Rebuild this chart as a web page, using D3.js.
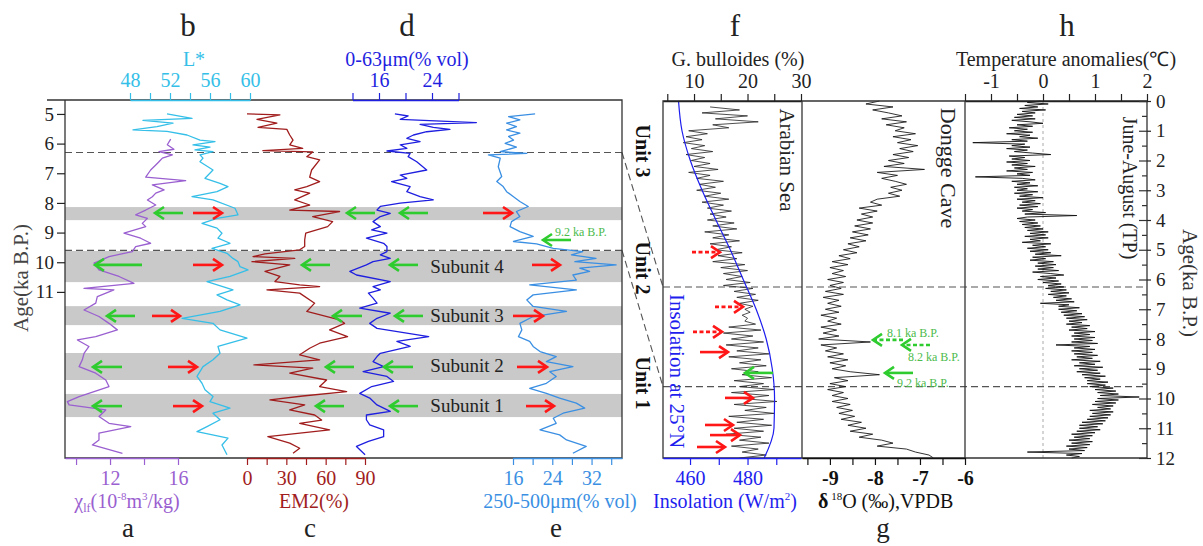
<!DOCTYPE html>
<html>
<head>
<meta charset="utf-8">
<script src="https://cdn.jsdelivr.net/npm/d3@7"></script>
<style>
  body { margin: 0; background: #fff; }
  svg { display: block; }
</style>
</head>
<body>
<div id="chart"></div>
<script>
// ---- data: left core (age ka B.P. on a depth-like scale) ----
const leftAgeTicks = [5, 6, 7, 8, 9, 10, 11];

const chiAge = [5.85,6.04,6.19,6.27,6.38,6.49,6.61,6.72,6.89,7.13,7.25,7.39,7.56,7.67,7.79,7.90,8.07,8.24,8.40,8.52,8.69,8.80,9.02,9.19,9.36,9.47,9.64,9.81,10.03,10.26,10.48,10.71,10.88,10.93,11.16,11.38,11.61,11.83,12.06,12.28,12.51,12.62,12.84,13.07,13.29,13.52,13.74,13.97,14.19,14.53,14.70,14.81,14.98,15.20,15.43,15.54,15.76,15.99,16.16,16.44];
const chiVal = [15.57,15.37,15.76,14.88,15.67,15.08,14.88,14.69,14.39,14.10,16.45,14.49,15.18,14.69,14.49,14.20,14.69,14.10,13.51,14.20,13.90,14.10,12.82,13.80,14.39,13.51,13.31,11.94,11.06,11.35,12.53,13.41,10.47,12.23,11.25,11.16,10.47,11.35,11.94,12.43,11.16,10.08,10.76,10.47,10.37,10.18,11.16,11.75,11.94,10.18,9.49,9.59,11.75,11.35,11.94,13.22,11.35,11.35,10.96,12.73];

const lAge = [5.00,5.15,5.22,5.31,5.43,5.54,5.59,5.71,5.88,5.93,6.04,6.12,6.21,6.27,6.38,6.49,6.61,6.89,7.17,7.34,7.45,7.62,7.79,7.90,8.18,8.40,8.52,8.69,8.85,9.02,9.19,9.36,9.53,9.70,9.87,9.98,10.15,10.26,10.48,10.65,10.93,11.10,11.27,11.44,11.66,11.89,12.06,12.28,12.56,12.84,13.07,13.29,13.52,13.85,14.08,14.30,14.53,14.70,14.92,15.09,15.31,15.54,15.71,15.93,16.16,16.49];
const lVal = [51.7,54.2,49.3,52.3,50.7,48.3,51.7,53.7,55.0,56.5,54.3,56.0,54.5,56.3,55.0,55.3,55.0,56.3,55.5,57.0,57.8,56.7,54.2,56.3,58.5,58.8,56.7,55.2,56.7,57.2,56.8,58.0,56.2,57.7,58.3,58.8,59.0,59.8,58.0,55.7,58.3,56.7,57.7,59.0,57.0,53.2,56.3,57.0,59.7,56.8,57.0,56.3,55.3,54.7,55.2,55.5,56.3,56.0,58.0,56.3,57.0,55.7,54.7,57.8,57.2,57.7];

const em2Age = [5.00,5.03,5.18,5.31,5.45,5.52,5.71,5.88,6.04,6.16,6.24,6.28,6.44,6.55,6.89,7.13,7.28,7.45,7.56,7.67,7.90,8.07,8.24,8.29,8.46,8.63,8.80,9.02,9.25,9.47,9.58,9.72,9.81,9.87,9.98,10.09,10.31,10.48,10.65,10.76,10.82,10.93,11.04,11.38,11.66,11.94,12.06,12.28,12.51,12.73,12.90,13.12,13.29,13.46,13.57,13.74,13.97,14.19,14.36,14.51,14.64,14.81,14.98,15.15,15.32,15.43,15.65,15.88,16.10,16.27,16.44];
const em2Val = [0,25.1,7.6,22.8,8.4,30.4,32.6,35.1,32.6,42.5,12.1,50.1,45.6,55.4,49.3,47.8,55.4,45.6,36.4,47.8,36.4,47.8,32.6,70.6,50.1,65.3,61.5,44.8,44.0,44.0,40.2,13.7,4.6,36.4,3.8,32.6,13.7,25.1,21.3,40.2,55.4,15.2,40.2,51.6,45.6,70.6,74.4,63.0,76.7,55.4,47.8,40.2,55.4,5.3,50.1,32.6,60.7,55.4,76.0,42.5,17.5,44.0,32.6,51.6,56.9,40.2,63.0,15.9,32.6,40.2,35.1];

const fineAge = [5.00,5.07,5.18,5.29,5.35,5.45,5.52,5.60,5.71,5.82,5.93,6.04,6.16,6.25,6.33,6.44,6.61,6.89,7.06,7.17,7.28,7.45,7.62,7.79,7.90,8.01,8.12,8.24,8.35,8.46,8.63,8.80,8.91,9.02,9.19,9.36,9.47,9.64,9.75,9.87,9.98,10.09,10.31,10.43,10.65,10.82,10.93,11.04,11.21,11.38,11.55,11.72,11.89,12.06,12.23,12.51,12.67,12.84,13.07,13.18,13.35,13.52,13.69,13.85,14.02,14.19,14.42,14.58,14.81,15.03,15.15,15.31,15.48,15.65,15.88,16.04,16.21,16.49];
const fineVal = [18.4,20.4,19.2,30.7,22.2,24.2,26.7,23.2,21.2,20.2,22.2,19.2,20.2,17.2,20.7,20.4,21.7,23.2,19.2,20.2,17.9,20.7,20.2,22.2,24.2,19.2,16.2,15.7,17.7,16.2,15.1,16.2,14.9,17.2,14.1,16.7,17.2,17.2,16.2,17.7,15.1,14.1,11.6,12.6,17.7,15.1,16.2,14.4,15.1,15.7,13.1,17.7,15.7,14.6,15.7,23.5,18.7,20.7,16.2,15.7,15.1,16.7,13.6,17.2,18.2,14.9,13.1,14.6,15.7,17.7,14.1,14.1,14.6,16.7,16.7,14.4,12.6,13.9];

const coarseAge = [5.00,5.09,5.20,5.31,5.43,5.54,5.65,5.76,5.88,5.99,6.12,6.21,6.27,6.33,6.38,6.49,6.78,7.11,7.28,7.45,7.62,7.79,7.95,8.12,8.29,8.46,8.63,8.80,8.97,9.13,9.30,9.38,9.53,9.64,9.75,9.87,9.98,10.09,10.20,10.31,10.43,10.60,10.76,10.93,11.10,11.27,11.49,11.66,11.83,12.06,12.28,12.51,12.67,12.84,13.01,13.18,13.35,13.52,13.69,13.85,14.08,14.25,14.42,14.58,14.75,14.92,15.09,15.26,15.43,15.65,15.82,15.99,16.21,16.44];
const coarseVal = [20.5,15.1,17.4,14.7,16.7,14.7,17.4,15.1,16.1,14.4,16.7,14.7,13.4,18.8,11.0,13.4,13.0,13.7,12.7,14.0,14.7,16.1,17.4,19.1,16.7,17.4,15.7,15.4,17.4,20.1,16.1,20.8,24.2,30.2,27.9,32.9,28.6,37.0,29.6,31.6,28.2,28.9,19.4,28.9,20.1,18.8,20.1,26.9,20.1,17.4,17.8,17.1,19.4,20.1,21.5,24.8,22.8,28.2,23.5,24.8,22.8,19.4,22.8,25.5,28.9,30.6,26.2,24.2,24.8,21.5,25.5,26.9,30.9,28.2];

const bandAges = [[8.14, 8.58], [9.62, 10.67], [11.48, 12.12], [13.06, 13.97], [14.44, 15.22]];
const subunitNames = [null, "Subunit 4", "Subunit 3", "Subunit 2", "Subunit 1"];
const leftBoundaries = [6.3, 9.6];

// ---- data: regional records (0-12 ka B.P.) ----
const insAge = [0,1,2,3,4,5,6,7,8,9,10,11,12];
const insVal = [456.0,457.2,460.1,464.2,469.0,474.0,478.5,483.0,486.5,488.6,489.4,489.2,485.8];

const bullStart = 0.2, bullStep = 0.1;
const bullVal = [13.0,18.5,11.5,20.0,14.0,22.0,13.5,16.5,
  9.0,12.5,8.5,11.5,8.0,12.0,9.5,13.5,8.5,12.0,
  9.5,13.0,10.0,14.5,9.0,13.0,10.5,15.5,11.0,14.0,
  10.5,15.0,12.0,16.5,11.5,15.5,12.5,17.0,13.0,16.0,
  12.5,17.5,13.5,18.0,12.0,16.5,13.5,18.5,13.0,17.0,
  14.0,19.0,14.5,18.0,13.5,19.5,15.0,20.0,15.5,19.0,
  16.0,20.5,15.5,21.0,17.5,21.5,18.0,22.0,18.5,21.0,
  19.5,20.5,19.0,20.0,19.5,21.5,16.5,22.5,15.5,21.0,
  17.0,23.0,16.0,22.0,18.0,24.0,16.5,22.5,18.5,23.5,
  17.0,22.0,19.0,24.5,17.5,23.0,18.5,25.0,17.0,24.0,
  19.0,25.5,17.5,23.5,19.5,25.0,16.5,23.0,18.0,24.5,
  17.5,23.0,16.0,22.5,18.5,24.0,17.0,22.0,19.0,23.5,
  18.5];

const d18oStep = 0.1;
const d18oVal = [-7.90,-8.20,-7.60,-8.05,-7.70, -7.40,-7.85,-7.30,-7.75,-7.35,
  -7.55,-7.10,-7.60,-7.20,-7.50, -7.05,-7.45,-7.15,-7.60,-7.25,
  -7.70,-7.35,-7.80,-6.90,-7.95, -7.50,-7.85,-7.55,-7.30,-7.65,
  -7.40,-7.70,-7.45,-7.95,-8.10, -7.85,-8.35,-7.95,-8.30,-8.05,
  -8.40,-8.05,-8.45,-8.10,-8.50, -8.15,-8.55,-8.20,-8.60,-8.35,
  -8.70,-8.40,-8.80,-8.55,-8.95, -8.60,-9.00,-8.70,-8.95,-8.65,
  -9.05,-8.70,-9.00,-8.75,-9.10, -8.70,-9.15,-8.80,-9.05,-8.75,
  -9.10,-8.80,-9.20,-8.85,-9.05, -8.75,-9.20,-8.85,-9.15,-8.80,
  -9.25,-8.10,-9.20,-8.85,-9.10, -8.70,-9.05,-8.60,-9.00,-8.65,
  -8.95,-8.55,-7.90,-8.90,-8.60, -9.00,-8.65,-9.05,-8.70,-8.95,
  -8.60,-8.95,-8.55,-8.85,-8.50, -8.80,-8.45,-8.75,-8.30,-8.60,
  -8.20,-8.55,-8.05,-8.35,-7.85, -7.60,-7.95,-7.30,-7.10,-6.80,
  -6.70];

const tempStep = 0.05;
const tempVal = [-0.05,-0.30,0.10,-0.35,-0.10,-0.45,0.05,-0.40,-0.15,-0.50,
  -0.20,-0.55,-0.15,-0.60,-0.25,0.00,-0.50,-0.20,-0.65,-0.30,
  -0.55,-0.20,-0.70,-0.25,-0.45,-0.10,-0.60,-0.30,-1.35,-0.35,
  -0.60,-0.25,-0.70,-0.30,-0.55,-0.20,0.15,-0.65,-0.35,-0.60,
  -0.25,-0.70,-0.30,-0.60,-0.15,-0.55,-0.30,-0.70,-0.20,-0.50,
  -0.25,-1.30,-0.40,-0.15,-0.60,-0.25,-0.50,-0.10,-0.55,-0.30,
  -0.50,-0.10,-0.55,-0.20,-0.45,0.00,-0.50,-0.15,-0.40,-0.05,
  -0.45,-0.10,-0.50,-0.20,-0.40,0.05,-0.35,0.65,-0.30,-0.50,
  -0.15,-0.45,-0.10,-0.40,-0.05,-0.35,0.00,-0.30,0.10,-0.25,
  0.05,-0.35,0.10,-0.25,-0.05,-0.40,0.15,-0.20,0.05,-0.30,
  0.10,-0.25,0.15,-0.15,0.35,-0.20,0.05,-0.25,0.20,-0.10,
  0.25,-0.15,0.20,-0.10,0.30,-0.20,0.15,0.40,-0.05,0.25,
  -0.10,0.30,0.00,0.35,0.10,0.40,0.05,0.45,0.15,0.50,
  0.10,0.45,0.20,0.55,0.25,0.60,-0.05,0.50,0.30,0.70,
  0.30,0.65,0.35,0.75,0.40,0.80,0.45,0.85,0.50,0.75,
  0.45,0.90,0.55,0.85,0.50,1.00,0.60,0.90,0.55,1.00,
  0.60,0.95,0.55,1.05,0.25,0.90,0.60,1.00,0.55,0.95,
  0.60,1.05,0.65,0.95,0.55,1.10,0.70,1.00,0.60,1.15,
  0.70,1.05,0.65,1.10,0.75,1.20,0.80,1.10,0.85,1.25,
  0.85,1.20,0.90,1.35,1.00,1.40,1.05,1.45,1.10,1.85,
  1.05,1.45,1.00,1.40,0.95,1.35,1.05,1.30,0.90,1.35,
  0.95,1.30,0.90,1.25,0.85,1.20,0.75,1.15,0.70,1.05,
  0.70,1.10,0.65,1.00,0.55,0.95,0.60,0.90,0.50,0.95,
  0.55,0.90,0.45,0.85,0.50,0.80,-0.30,0.75,0.45,0.70,
  0.55];

const rightBoundaries = [6.25, 9.6];

// annotation arrows: [age, tail x, head x, kind]  (g = green, r = red, d = dashed)
const leftArrows = [
  [8.34,183,155,"g"],[8.34,193,222,"r"],[8.34,375,347,"g"],[8.34,428,400,"g"],[8.34,483,512,"r"],
  [10.09,142,95,"g"],[10.09,193,222,"r"],[10.09,330,302,"g"],[10.09,418,390,"g"],[10.09,532,560,"r"],
  [11.81,135,107,"g"],[11.81,152,180,"r"],[11.81,362,333,"g"],[11.81,423,395,"g"],[11.81,513,543,"r"],
  [13.53,122,93,"g"],[13.53,168,197,"r"],[13.53,354,326,"g"],[13.53,413,384,"g"],[13.53,517,547,"r"],
  [14.85,122,93,"g"],[14.85,173,202,"r"],[14.85,344,316,"g"],[14.85,418,390,"g"],[14.85,526,554,"r"],
  [9.25,571,543,"g"]
];
const rightArrows = [
  [5.08,692,720,"rd"],[6.92,715,743,"rd"],[7.76,693,722,"rd"],
  [8.44,700,728,"r"],[9.98,725,753,"r"],[10.89,705,733,"r"],[11.23,710,740,"r"],[11.63,697,725,"r"],
  [9.14,773,745,"g"],
  [8.03,903,873,"gd"],[8.2,930,902,"gd"],[9.14,913,885,"g"]
];

// ---- setup ----
const width = 1203, height = 546;
const serif = '"Liberation Serif","Times New Roman",serif';
const col = {
  chi: "#9a5fd0", lstar: "#35bfe8", em2: "#a11d1d", fine: "#1f1fe0", coarse: "#3a8fe3",
  ins: "#1e1eee", green: "#2ecc2e", greenText: "#4cbb4c", red: "#ff1616", frame: "#333"
};

const svg = d3.select("#chart")
  .append("svg")
    .attr("width", width)
    .attr("height", height)
    .style("font-family", serif);

// scales
const yL = d3.scaleLinear().domain([4.53, 16.6]).range([100, 458]);
const yR = d3.scaleLinear().domain([0, 12]).range([101, 458]);
const xA = d3.scaleLinear().domain([9.35, 16]).range([65, 178]);
const xB = d3.scaleLinear().domain([48, 60]).range([130, 250]);
const xC = d3.scaleLinear().domain([0, 90]).range([247, 365]);
const xD = d3.scaleLinear().domain([12, 28]).range([352.5, 458.5]);
const xE = d3.scaleLinear().domain([16, 38.2]).range([513, 622]);
const xF = d3.scaleLinear().domain([4.2, 30]).range([663, 801]);
const xI = d3.scaleLinear().domain([450.6, 498.6]).range([663, 801]);
const xG = d3.scaleLinear().domain([-9.62, -6]).range([802, 965]);
const xH = d3.scaleLinear().domain([-1.5, 2]).range([965, 1147]);

// grey bands
svg.append("g").selectAll("rect")
  .data(bandAges)
  .enter().append("rect")
    .attr("x", 65)
    .attr("width", 622 - 65)
    .attr("y", d => yL(d[0]))
    .attr("height", d => yL(d[1]) - yL(d[0]))
    .attr("fill", "#c9c9c9");

// dashed boundaries
const dash = svg.append("g").attr("stroke", "#555").attr("stroke-width", 1.1).attr("stroke-dasharray", "7,4").attr("fill", "none");
leftBoundaries.forEach((a, i) => {
  dash.append("line").attr("x1", 65).attr("x2", 622).attr("y1", yL(a)).attr("y2", yL(a));
  dash.append("line").attr("x1", 622).attr("x2", 663).attr("y1", yL(a)).attr("y2", yR(rightBoundaries[i]));
});
rightBoundaries.forEach(a => {
  dash.append("line").attr("x1", 663).attr("x2", 1147).attr("y1", yR(a)).attr("y2", yR(a));
});
svg.append("line")
  .attr("x1", xH(0)).attr("x2", xH(0)).attr("y1", 101).attr("y2", 458)
  .attr("stroke", "#aaa").attr("stroke-width", 1).attr("stroke-dasharray", "3,3");

// left series
function leftLine(ages, vals, x, color) {
  const line = d3.line().x(d => x(d[1])).y(d => yL(d[0]));
  svg.append("path")
    .datum(d3.zip(ages, vals))
    .attr("fill", "none")
    .attr("stroke", color)
    .attr("stroke-width", 1.3)
    .attr("stroke-linejoin", "round")
    .attr("d", line);
}
leftLine(chiAge, chiVal, xA, col.chi);
leftLine(lAge, lVal, xB, col.lstar);
leftLine(em2Age, em2Val, xC, col.em2);
leftLine(fineAge, fineVal, xD, col.fine);
leftLine(coarseAge, coarseVal, xE, col.coarse);

// right series
const bullData = bullVal.map((v, i) => [bullStart + i * bullStep, v]);
const d18oData = d18oVal.map((v, i) => [i * d18oStep, v]);
const tempData = tempVal.map((v, i) => [i * tempStep, v]);

svg.append("path")
  .datum(bullData)
  .attr("fill", "none").attr("stroke", "#222").attr("stroke-width", 0.8)
  .attr("d", d3.line().x(d => xF(d[1])).y(d => yR(d[0])));

svg.append("path")
  .datum(d3.zip(insAge, insVal))
  .attr("fill", "none").attr("stroke", col.ins).attr("stroke-width", 1.2)
  .attr("d", d3.line().curve(d3.curveMonotoneY).x(d => xI(d[1])).y(d => yR(d[0])));

svg.append("path")
  .datum(d18oData)
  .attr("fill", "none").attr("stroke", "#111").attr("stroke-width", 0.85)
  .attr("d", d3.line().x(d => xG(d[1])).y(d => yR(d[0])));

svg.append("path")
  .datum(tempData)
  .attr("fill", "none").attr("stroke", "#111").attr("stroke-width", 0.9)
  .attr("d", d3.line().x(d => xH(d[1])).y(d => yR(d[0])));

// frames
const frame = svg.append("g").attr("stroke", col.frame).attr("stroke-width", 1.3).attr("fill", "none");
frame.append("path").attr("d", "M47,100H622V458H65V100");
frame.append("path").attr("d", "M663,101H1147V458H663Z");
frame.append("line").attr("x1", 802).attr("x2", 802).attr("y1", 101).attr("y2", 458);
frame.append("line").attr("x1", 965).attr("x2", 965).attr("y1", 101).attr("y2", 458);

// axes
function styleAxis(g, color, size, labelY) {
  g.attr("color", color).attr("font-family", serif).attr("font-size", size);
  g.select(".domain").attr("stroke-width", 1.3);
  g.selectAll(".tick line").attr("stroke-width", 1.2);
  if (labelY !== undefined) g.selectAll(".tick text").attr("y", labelY).attr("dy", 0);
}
function topAxis(scale, ticks, fmt, color, y) {
  const g = svg.append("g").attr("transform", `translate(0,${y})`)
    .call(d3.axisTop(scale).tickValues(ticks).tickSize(7).tickSizeOuter(0).tickFormat(fmt));
  styleAxis(g, color, 20, -13);
  return g;
}
function bottomAxis(scale, ticks, fmt, color) {
  const g = svg.append("g").attr("transform", "translate(0,458)")
    .call(d3.axisBottom(scale).tickValues(ticks).tickSize(7).tickSizeOuter(0).tickFormat(fmt));
  styleAxis(g, color, 20, 27);
  return g;
}

topAxis(xB, [48,50,52,54,56,58,60], d => d % 4 === 0 ? d : "", col.lstar, 100);
topAxis(xD, [12,16,20,24,28], d => (d === 16 || d === 24) ? d : "", col.fine, 100);
topAxis(xF, [5,10,15,20,25,30], d => d % 10 === 0 ? d : "", "#222", 101);
topAxis(xH, [-1.5,-1,-0.5,0,0.5,1,1.5,2], d => Number.isInteger(d) ? String(d) : "", "#222", 101);

bottomAxis(xA, [10,12,14,16], d => d % 4 === 0 ? d : "", col.chi);
bottomAxis(xC, [0,15,30,45,60,75,90], d => d % 30 === 0 ? d : "", col.em2);
bottomAxis(xE, [16,20,24,28,32,36], d => d % 8 === 0 ? d : "", col.coarse);
bottomAxis(xI, [460,470,480,490], d => d % 20 === 0 ? d : "", col.ins);
bottomAxis(xG, [-9.5,-9,-8.5,-8,-7.5,-7,-6.5,-6], d => Number.isInteger(d) ? String(d) : "", "#111")
  .selectAll(".tick text").attr("font-weight", "bold");

// left age axis
const yAxL = svg.append("g").attr("transform", "translate(65,0)")
  .call(d3.axisLeft(yL).tickValues(leftAgeTicks).tickSize(8).tickSizeOuter(0));
styleAxis(yAxL, "#222", 19);
yAxL.select(".domain").remove();

// right age axis
const yAxR = svg.append("g").attr("transform", "translate(1147,0)")
  .call(d3.axisLeft(yR).tickValues(d3.range(0, 12.01, 0.5)).tickSize(6).tickFormat(""));
styleAxis(yAxR, "#333", 19);
yAxR.select(".domain").remove();
yAxR.selectAll(".tick line").attr("x2", d => Number.isInteger(d) ? -8 : -5);
const yAxR2 = svg.append("g").attr("transform", "translate(1147,0)")
  .call(d3.axisRight(yR).tickValues(d3.range(0, 13)).tickSize(4).tickPadding(5));
styleAxis(yAxR2, "#222", 19);
yAxR2.select(".domain").remove();

// arrows
function drawArrow(y, x1, x2, kind) {
  const color = kind[0] === "g" ? col.green : col.red;
  const dashed = kind.length > 1;
  const dir = x2 > x1 ? 1 : -1;
  const g = svg.append("g").attr("stroke", color).attr("stroke-width", 2.6).attr("fill", "none");
  g.append("line").attr("x1", x1).attr("x2", x2 - dir).attr("y1", y).attr("y2", y)
    .attr("stroke-dasharray", dashed ? "4,2.5" : null);
  g.append("path").attr("d", `M${x2 - dir * 9},${y - 6}L${x2},${y}L${x2 - dir * 9},${y + 6}`);
}
leftArrows.forEach(a => drawArrow(yL(a[0]), a[1], a[2], a[3]));
rightArrows.forEach(a => drawArrow(yR(a[0]), a[1], a[2], a[3]));

// text helper
function txt(x, y, s, opt = {}) {
  const t = svg.append("text")
    .attr("x", x).attr("y", y)
    .attr("text-anchor", opt.anchor || "middle")
    .attr("font-size", opt.size || 20)
    .attr("fill", opt.color || "#222")
    .text(s);
  if (opt.weight) t.attr("font-weight", opt.weight);
  if (opt.rotate) t.attr("transform", `rotate(${opt.rotate},${x},${y})`);
  return t;
}
function rich(x, y, parts, opt = {}) {
  const t = svg.append("text")
    .attr("x", x).attr("y", y)
    .attr("text-anchor", opt.anchor || "middle")
    .attr("font-size", 20)
    .attr("fill", opt.color || "#222");
  parts.forEach(p => {
    const s = t.append("tspan").text(p[0]);
    if (p[1]) s.attr("font-size", p[1]);
    if (p[2]) s.attr("dy", p[2]);
    if (p[3]) s.attr("font-weight", p[3]);
  });
  return t;
}

// panel letters
[["b",188],["d",407],["f",735],["h",1067]].forEach(d => txt(d[1], 36, d[0], {size: 31}));
[["a",128],["c",310],["e",556],["g",883]].forEach(d => txt(d[1], 537, d[0], {size: 27}));

// top titles
txt(194, 66, "L*", {color: col.lstar});
txt(407, 66, "0-63\u03bcm(% vol)", {color: col.fine});
txt(738, 66, "G. bulloides (%)");
txt(1066, 66, "Temperature anomalies(\u2103)");

// bottom titles
rich(127, 508, [["\u03c7"], ["lf", 12, 4], ["(10", null, -4], ["-8", 11, -8], ["m", null, 8], ["3", 11, -8], ["/kg)", null, 8]], {color: col.chi});
txt(314, 508, "EM2(%)", {color: col.em2});
txt(560, 508, "250-500\u03bcm(% vol)", {color: col.coarse});
rich(725, 508, [["Insolation (W/m"], ["2", 11, -8], [")", null, 8]], {color: col.ins});
rich(818, 508, [["\u03b4", 20, null, "bold"], [" 18", 11, -8], ["O (\u2030),VPDB", null, 8]], {anchor: "start", color: "#111"});

// axis titles
txt(28, 278, "Age(ka B.P.)", {size: 21, color: "#444", rotate: -90});
txt(1183, 283, "Age(ka B.P.)", {size: 21, color: "#333", rotate: 90});

// panel annotations
txt(1123, 188, "June-August (TP)", {size: 20, rotate: 90});
txt(941, 168, "Dongge Cave", {size: 22, rotate: 90});
txt(780, 160, "Arabian Sea", {size: 21, rotate: 90});
txt(670, 371, "Insolation at 25\u00b0N", {size: 21, color: col.ins, rotate: 90});

[["Unit 3",151],["Unit 2",268],["Unit 1",383]].forEach(d => txt(636, d[1], d[0], {size: 20, weight: "bold", color: "#111", rotate: 90}));

subunitNames.forEach((s, i) => {
  if (s) txt(467, (yL(bandAges[i][0]) + yL(bandAges[i][1])) / 2 + 6, s, {size: 19, color: "#222"});
});

// event labels
txt(555, 236, "9.2 ka B.P.", {size: 12, anchor: "start", color: col.greenText});
txt(887, 337, "8.1 ka B.P.", {size: 12, anchor: "start", color: col.greenText});
txt(908, 361, "8.2 ka B.P.", {size: 12, anchor: "start", color: col.greenText});
txt(897, 387, "9.2 ka B.P.", {size: 12, anchor: "start", color: col.greenText});
</script>
</body>
</html>
